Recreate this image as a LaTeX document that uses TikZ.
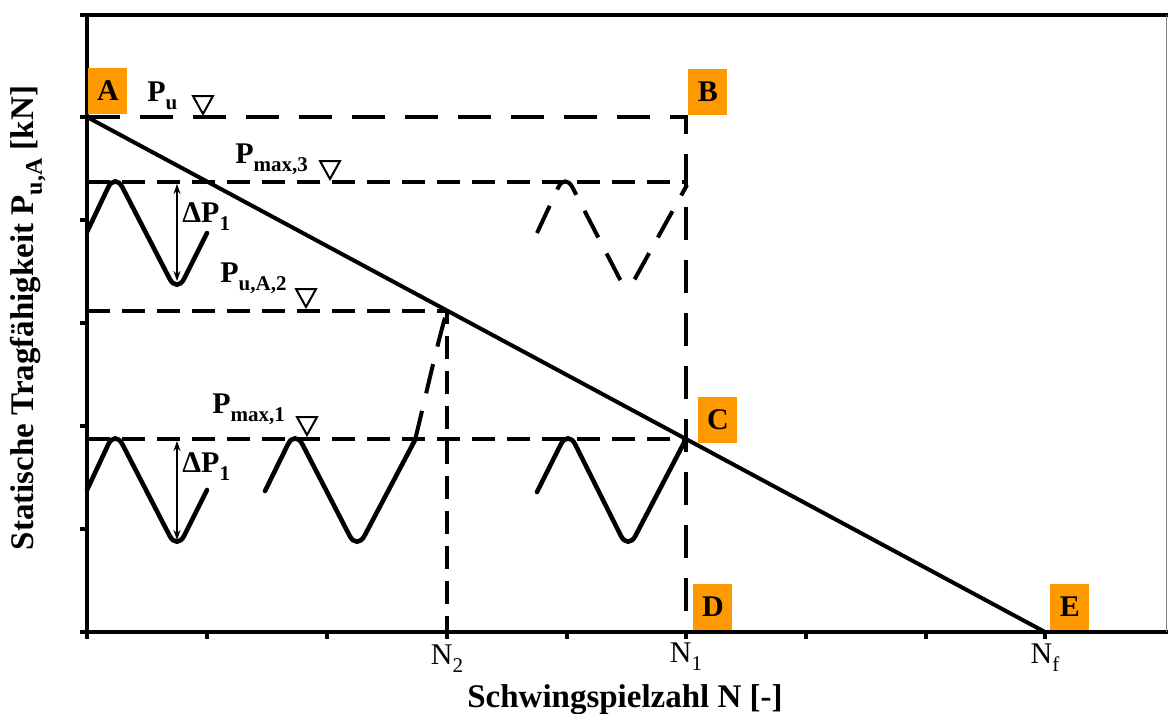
\documentclass[tikz,border=0pt]{standalone}
\usepackage{fontspec}
\setmainfont{Liberation Serif}
\usetikzlibrary{positioning,arrows.meta}

\definecolor{markorange}{RGB}{255,153,0}
\newcommand{\lowtext}[2][4pt]{\raisebox{-#1}{\fontsize{10.5}{10.5}\selectfont #2}}

\begin{document}
\begin{tikzpicture}[
  x=0.5pt, y=-0.5pt,
  axis/.style={line width=2.2pt},
  axtick/.style={line width=1.6pt},
  limitline/.style={line width=2pt},
  wave/.style={line width=2.3pt, rounded corners=8pt, line cap=round},
  wavehint/.style={line width=2pt, rounded corners=8pt, dash pattern=on 15pt off 9pt},
  guide/.style={line width=2pt, dash pattern=on 11.5pt off 6pt},
  guidelong/.style={line width=2pt, dash pattern=on 16.5pt off 10pt},
  spanarrow/.style={{Stealth[length=5pt,width=3.5pt]}-{Stealth[length=5pt,width=3.5pt]}, line width=0.6pt},
  pointbox/.style={fill=markorange, minimum width=19.5pt, minimum height=23pt, inner sep=0pt, font=\fontsize{15}{15}\selectfont\bfseries},
  loadlab/.style={anchor=base west, inner sep=0pt, font=\fontsize{15}{15}\selectfont\bfseries},
  cycles/.style={anchor=base, inner sep=0pt, font=\fontsize{15}{15}\selectfont},
  axislabel/.style={inner sep=0pt, font=\fontsize{16.5}{16.5}\selectfont\bfseries},
  tri/.pic={\draw[line width=1pt] (0,0) -- (-10,-18) -- (10,-18) -- cycle;}
]
\useasboundingbox (0,0) rectangle (1168,713);

% frame and ticks
\coordinate (top) at (87,15);
\coordinate (o) at (87,632);
\draw[axis] (1168,15) -- (top) -- (o) -- (1168,632);
\draw[line width=0.5pt, gray] (1166,15) -- (1166,632);
\foreach \y in {15,117,220,323,426,529,632} \draw[axtick] (87,\y) -- ++(-7,0);
\foreach \x in {87,207,327,447,567,686,806,926,1045} \draw[axtick] (\x,632) -- ++(0,7);

% points on the capacity line
\coordinate (pA) at (87,117);
\coordinate (pB) at (686,117);
\coordinate (pC) at (686,439);
\coordinate (pD) at (686,632);
\coordinate (pE) at (1045,632);
\coordinate (p2) at (447,311);
\coordinate (n2) at (447,632);

% guide lines
\draw[guidelong] (pA) -- (pB) -- (pD);
\draw[guide] (87,182) -- (686,182);
\draw[guide] (87,311) -- (p2) -- (n2);
\draw[guide] (87,439) -- (pC);
\draw[limitline] (pA) -- (pE);

% load cycles
\draw[wave] (87,232) -- (115,173) -- (177,293) -- (207,233);
\draw[wave] (87,490) -- (115,430) -- (177,550) -- (207,490);
\draw[wave] (265,491) -- (295,430) -- (357,550) -- (415,440);
\draw[wavehint] (415,440) .. controls (423,408) and (438,340) .. (p2);
\draw[wave] (537,492) -- (568,430) -- (628,550) -- (pC);
\draw[wavehint] (537,233) -- (565,173) -- (627,293) -- (687,185);
\draw[spanarrow] (177,184) -- (177,281);
\draw[spanarrow] (177,441) -- (177,540);

% labels
\node[loadlab] (lPu) at (147,101) {P\lowtext{u}};
\node[loadlab] (lP3) at (235,163) {P\lowtext{max,3}};
\node[loadlab] (lP2) at (220,282) {P\lowtext{u,A,2}};
\node[loadlab] (lP1) at (212,413) {P\lowtext{max,1}};
\node[loadlab] (dPa) at (182,222) {ΔP\lowtext{1}};
\node[loadlab] (dPb) at (182,472) {ΔP\lowtext{1}};
\pic at (203,114) {tri};
\pic at (330,179) {tri};
\pic at (306,307) {tri};
\pic at (307,435) {tri};

\node[pointbox, above right=1.5pt and 0.5pt of pA] (A) {A};
\node[pointbox, above right=1pt and 1pt of pB] (B) {B};
\node[pointbox, above right=-2pt and 6pt of pC] (C) {C};
\node[pointbox, above right=1pt and 3.5pt of pD] (D) {D};
\node[pointbox, above right=1pt and 2.5pt of pE] (E) {E};

\node[cycles] (N2) at (447,664) {N\lowtext{2}};
\node[cycles] (N1) at (686,662) {N\lowtext{1}};
\node[cycles] (Nf) at (1045,663) {N\lowtext{f}};

\node[axislabel, anchor=base] (xlab) at (625,707) {Schwingspielzahl N [-]};
\node[axislabel, rotate=90] (ylab) at (28,318) {Statische Tragfähigkeit P\raisebox{-4pt}{\fontsize{12}{12}\selectfont u,A} [kN]};
\end{tikzpicture}
\end{document}
